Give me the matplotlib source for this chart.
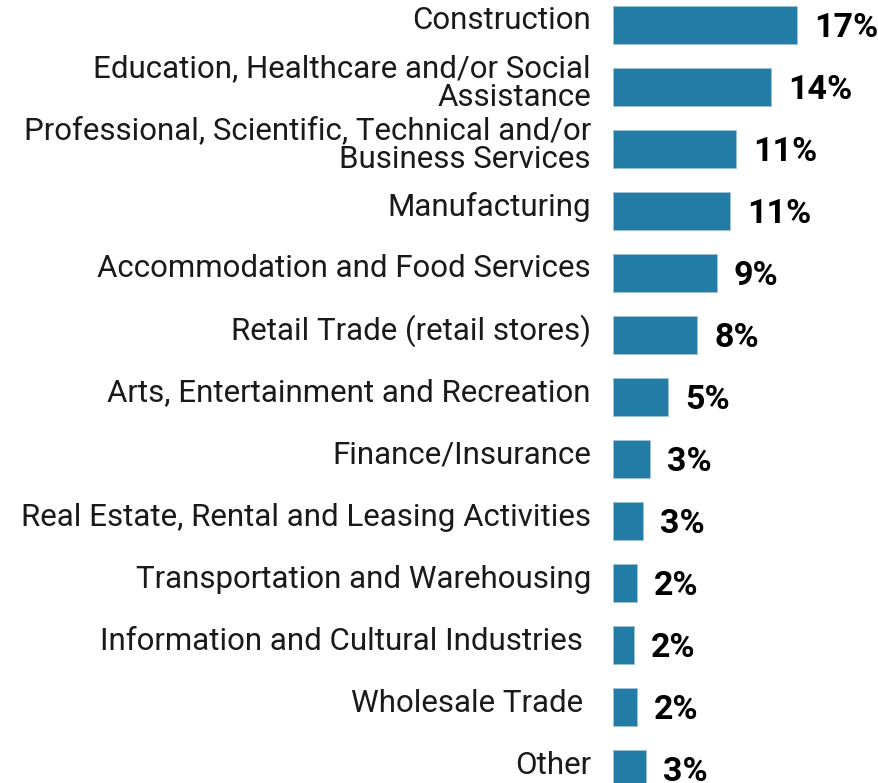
import matplotlib.pyplot as plt
import matplotlib.transforms as mtransforms

# --- data ---
categories = [
    "Construction",
    "Education, Healthcare and/or Social\nAssistance",
    "Professional, Scientific, Technical and/or\nBusiness Services",
    "Manufacturing",
    "Accommodation and Food Services",
    "Retail Trade (retail stores)",
    "Arts, Entertainment and Recreation",
    "Finance/Insurance",
    "Real Estate, Rental and Leasing Activities",
    "Transportation and Warehousing",
    "Information and Cultural Industries ",
    "Wholesale Trade ",
    "Other",
]
values = [17.0, 14.6, 11.4, 10.8, 9.6, 7.8, 5.1, 3.4, 2.8, 2.2, 1.9, 2.2, 3.05]
value_labels = ["17%", "14%", "11%", "11%", "9%", "8%", "5%", "3%", "3%", "2%", "2%", "2%", "3%"]

bar_color = "#237ca6"

fig = plt.figure(figsize=(8.79, 7.83), dpi=100)
ax = fig.add_axes([613 / 879, 0, 266 / 879, 1])

pos = list(range(len(categories)))
ax.barh(pos, values, height=0.6, color=bar_color, edgecolor="#9cc3d8", linewidth=0.6)

ax.set_ylim((783 - 25) / 62, -25 / 62)
ax.set_xlim(0, 266 / 10.82)
ax.axis("off")

# category labels, right aligned left of the bars
lab_tr = mtransforms.offset_copy(ax.transData, fig=fig, x=-22, y=4, units="dots")
for p, c in zip(pos, categories):
    ax.text(0, p, c, transform=lab_tr, ha="right", va="center",
            fontsize=22.5, family="Roboto",
            linespacing=0.98, color="#1a1a1a", clip_on=False)

# value labels
val_tr = mtransforms.offset_copy(ax.transData, fig=fig, x=17, y=-3, units="dots")
for p, v, s in zip(pos, values, value_labels):
    ax.text(v, p, s, transform=val_tr, ha="left", va="center",
            fontsize=24.5, fontweight="bold", family="Roboto", color="black",
            clip_on=False)

fig.savefig("out.png", dpi=100)
